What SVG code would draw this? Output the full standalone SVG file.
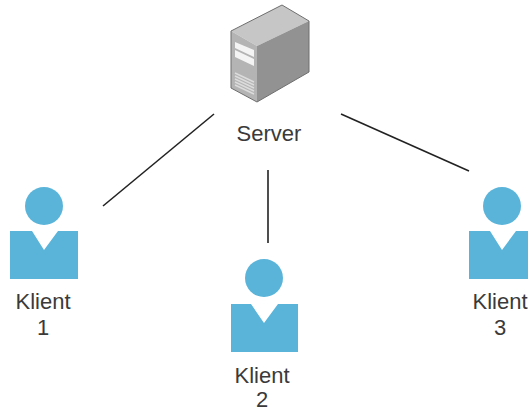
<svg xmlns="http://www.w3.org/2000/svg" width="528" height="412" viewBox="0 0 528 412">
<defs>
<filter id="soft" x="-5%" y="-5%" width="110%" height="110%"><feGaussianBlur stdDeviation="0.5"/></filter>
</defs>
<style>
.p{fill:#5AB4DA}
.t{font-family:"Liberation Sans",Arial,sans-serif;font-size:22px;fill:#3a3a3a;text-anchor:middle}
.c{stroke:#222;stroke-width:1.6;fill:none}
</style>
<rect width="528" height="412" fill="#fff"/>
<g id="connectors">
<line class="c" x1="214" y1="114" x2="103" y2="206"/>
<line class="c" x1="268" y1="170" x2="268" y2="243"/>
<line class="c" x1="341" y1="114" x2="469" y2="171"/>
</g>
<g id="server">
<g filter="url(#soft)">
<path d="M231 31L282 5L309 21L257 46Z" fill="#c6c6c6"/>
<path d="M231 31L257 46V102L231 88Z" fill="#b4b4b4"/>
<path d="M257 46L309 21V72L257 102Z" fill="#929292"/>
<path d="M231 31L282 5L309 21V72L257 102L231 88Z" fill="none" stroke="#6e6e6e" stroke-width="1"/>
<path d="M235 42L254 50V57L235 48ZM235 50L254 59V66L235 57Z" fill="#f4f4f4"/>
<path d="M235 73L254 82M235 76L254 85M235 79L254 88M235 82L254 91M235 85L254 94" stroke="#dcdcdc" stroke-width="1.4"/>
</g>
<text class="t" x="269" y="141">Server</text>
</g>
<g id="klient1">
<circle class="p" cx="44" cy="206" r="19"/>
<path class="p" d="M10 231H32L44 250L58 231H78V279H10Z"/>
<text class="t" x="43" y="309">Klient</text>
<text class="t" x="43" y="335">1</text>
</g>
<g id="klient2">
<circle class="p" cx="264" cy="278" r="19"/>
<path class="p" d="M231 304H251L264 323L278 304H298V352H231Z"/>
<text class="t" x="262" y="383">Klient</text>
<text class="t" x="262" y="407">2</text>
</g>
<g id="klient3">
<circle class="p" cx="502" cy="206" r="19"/>
<path class="p" d="M469 231H490L502 250L516 231H536V279H469Z"/>
<text class="t" x="500" y="309">Klient</text>
<text class="t" x="500" y="335">3</text>
</g>
</svg>
